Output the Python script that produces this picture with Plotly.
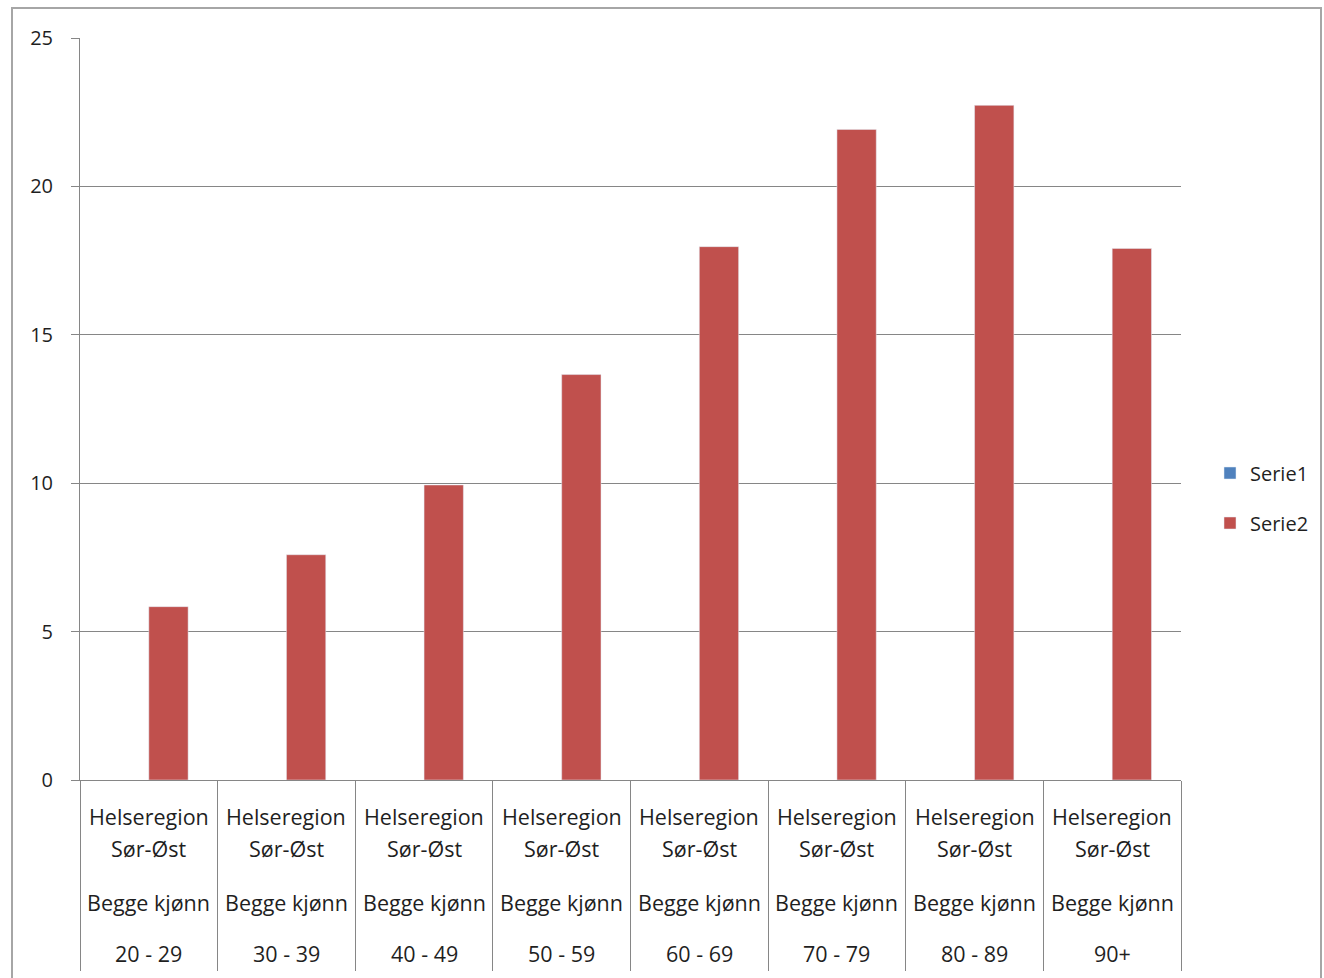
import plotly.graph_objects as go

# Category data (one column per age band)
age_groups = ["20 - 29", "30 - 39", "40 - 49", "50 - 59", "60 - 69", "70 - 79", "80 - 89", "90+"]
regions = ["Helseregion Sør-Øst"] * 8
genders = ["Begge kjønn"] * 8

# Series values
serie1 = [None, None, None, None, None, None, None, None]
serie2 = [5.84, 7.59, 9.94, 13.66, 17.97, 21.92, 22.73, 17.91]

y_ticks = [0, 5, 10, 15, 20, 25]

FONT = "Open Sans"
GRID = "#868686"
TEXT = "#1f1f1f"

fig = go.Figure()
fig.add_trace(go.Bar(x=age_groups, y=serie1, name="Serie1", marker_color="#4F81BD",
                     legendgroup="s1"))
fig.add_trace(go.Bar(x=age_groups, y=serie2, name="Serie2", marker_color="#C0504D",
                     legendgroup="s2"))

# Multi-row category labels below the axis
row_offsets = [36, 68, 122, 173]
annotations = []
for age, reg, gen in zip(age_groups, regions, genders):
    first, second = reg.split(" ", 1)
    for text, off in zip([first, second, gen, age], row_offsets):
        annotations.append(dict(
            x=age, xref="x", y=0, yref="paper", yanchor="middle", xanchor="center",
            yshift=-off, text=text, showarrow=False,
            font=dict(family=FONT, size=21.5, color=TEXT),
        ))

L, R, T, B = 80, 143, 38, 198
W, H = 1324, 978
pw, ph = W - L - R, H - T - B
bottom = H - B  # pixel row of the category axis

fig.update_layout(
    width=W, height=H,
    margin=dict(l=L, r=R, t=T, b=B, autoexpand=False),
    paper_bgcolor="white", plot_bgcolor="white",
    barmode="group", bargap=1.5 / 3.5, bargroupgap=0,
    font=dict(family=FONT, color=TEXT),
    showlegend=True,
    legend=dict(
        x=(1210 - L) / pw, xanchor="left",
        y=(bottom - 498) / ph, yanchor="middle",
        font=dict(family=FONT, size=20, color=TEXT),
        tracegroupgap=21, traceorder="grouped",
        bgcolor="rgba(0,0,0,0)",
    ),
    annotations=annotations,
    shapes=[dict(
        type="rect", xref="paper", yref="paper",
        x0=(12 - L) / pw, x1=(1321 - L) / pw,
        y0=-0.3, y1=(bottom - 8) / ph,
        line=dict(color="#a6a6a6", width=2), layer="below",
    )],
)

fig.update_xaxes(
    type="category", showgrid=False, showline=True, linecolor=GRID, linewidth=1,
    ticks="outside", tickson="boundaries", ticklen=190, tickcolor=GRID, tickwidth=1,
    showticklabels=False, fixedrange=True,
)
fig.update_yaxes(
    range=[0, 25], tickvals=y_ticks, showgrid=True, gridcolor=GRID, gridwidth=1,
    showline=True, linecolor=GRID, linewidth=1, zeroline=False,
    ticks="outside", ticklen=8, tickcolor=GRID, tickwidth=1,
    tickfont=dict(family=FONT, size=20, color=TEXT), ticklabelstandoff=14,
)

fig.write_html("out.html")
